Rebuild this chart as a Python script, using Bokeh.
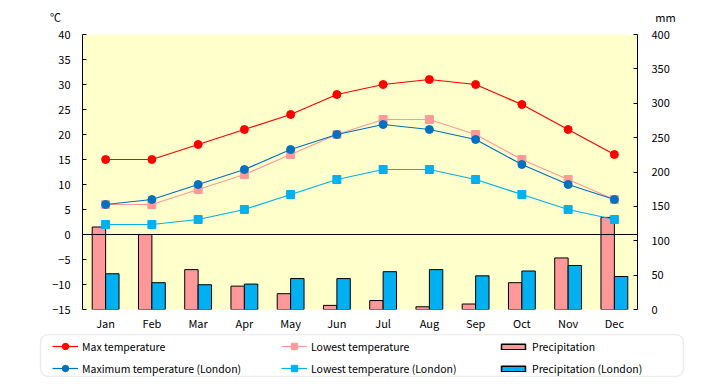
from bokeh.plotting import figure
from bokeh.layouts import column
from bokeh.models import (Range1d, LinearAxis, Span, Legend, LegendItem,
                          BoxAnnotation, FixedTicker, ColumnDataSource)
from bokeh.core.properties import value
from bokeh.transform import dodge
from bokeh.embed import file_html
from bokeh.resources import INLINE

months = ["Jan", "Feb", "Mar", "Apr", "May", "Jun", "Jul", "Aug", "Sep", "Oct", "Nov", "Dec"]
max_temp = [15, 15, 18, 21, 24, 28, 30, 31, 30, 26, 21, 16]
low_temp = [6, 6, 9, 12, 16, 20, 23, 23, 20, 15, 11, 7]
precip = [120, 109, 58, 34, 23, 6, 13, 4, 8, 39, 75, 134]
ldn_max = [6, 7, 10, 13, 17, 20, 22, 21, 19, 14, 10, 7]
ldn_low = [2, 2, 3, 5, 8, 11, 13, 13, 11, 8, 5, 3]
ldn_precip = [52, 39, 36, 37, 45, 45, 55, 58, 49, 56, 64, 48]
temp_ticks = list(range(-15, 45, 5))
mm_ticks = list(range(0, 450, 50))

FONT = "Noto Sans CJK JP"
RED = "#FF0000"
PINK = "#FF9999"
DBLUE = "#0070C0"
LBLUE = "#00B0F0"
W = 712
NAN = float("nan")

idx = list(range(len(months)))
src = ColumnDataSource(dict(x=idx, max_temp=max_temp, low_temp=low_temp, precip=precip,
                            ldn_max=ldn_max, ldn_low=ldn_low, ldn_precip=ldn_precip))

# ---- header with unit labels ----
H0 = 24
p0 = figure(width=W, height=H0, x_range=Range1d(0, W), y_range=Range1d(0, H0),
            output_backend="svg", toolbar_location=None, x_axis_type=None, y_axis_type=None,
            min_border=0, outline_line_color=None)
p0.frame_align = False
p0.grid.visible = False
p0.text(x=[55, 665], y=[H0 - 16, H0 - 16], text=["℃", "mm"], text_font=value(FONT),
        text_font_size="11px", text_align="center", text_baseline="middle", text_color="black")

# ---- main chart ----
p = figure(width=W, height=309, x_range=Range1d(-0.5, 11.5), y_range=Range1d(-15, 40),
           output_backend="svg", toolbar_location=None,
           min_border_left=82, min_border_right=75, min_border_top=10, min_border_bottom=24)
p.frame_align = False
p.extra_y_ranges = {"mm": Range1d(0, 400)}
p.background_fill_color = "#FFFFCC"
p.border_fill_color = "white"
p.outline_line_color = None
p.xgrid.visible = False
p.ygrid.visible = False

p.yaxis.ticker = FixedTicker(ticks=temp_ticks)
p.xaxis.ticker = FixedTicker(ticks=idx)
p.xaxis.major_label_overrides = {i: m for i, m in enumerate(months)}
right = LinearAxis(y_range_name="mm", ticker=FixedTicker(ticks=mm_ticks))
p.add_layout(right, "right")

for ax in [p.yaxis[0], right]:
    ax.major_tick_in = 4
    ax.major_tick_out = 0
    ax.minor_tick_in = 0
    ax.minor_tick_out = 0
    ax.axis_line_color = "black"
    ax.major_tick_line_color = "black"
    ax.major_label_text_font = FONT
    ax.major_label_text_font_size = "11px"
    ax.major_label_text_color = "black"
p.yaxis[0].major_label_standoff = 12
right.major_label_standoff = 14

xa = p.xaxis[0]
xa.axis_line_color = None
xa.major_tick_in = 0
xa.major_tick_out = 0
xa.minor_tick_in = 0
xa.minor_tick_out = 0
xa.major_tick_line_color = None
xa.minor_tick_line_color = None
xa.major_label_text_font = FONT
xa.major_label_text_font_size = "11px"
xa.major_label_text_color = "black"
xa.major_label_standoff = 5

bw = 0.29
p.vbar(x=dodge("x", -0.145), top="precip", bottom=0, width=bw, source=src,
       y_range_name="mm", fill_color=PINK, line_color="black", line_width=1)
p.vbar(x=dodge("x", 0.145), top="ldn_precip", bottom=0, width=bw, source=src,
       y_range_name="mm", fill_color=LBLUE, line_color="black", line_width=1)

p.add_layout(Span(location=0, dimension="width", line_color="black", line_width=1))

LW = 1.2
series = [("low_temp", PINK, "square"), ("ldn_low", LBLUE, "square"),
          ("ldn_max", DBLUE, "circle"), ("max_temp", RED, "circle")]
for col, c, m in series:
    p.line("x", col, source=src, line_color=c, line_width=LW)
    p.scatter("x", col, source=src, marker=m, size=8, fill_color=c, line_color=c)

# ---- legend panel ----
H2 = 44
p2 = figure(width=W, height=H2, x_range=Range1d(0, W), y_range=Range1d(0, H2),
            output_backend="svg", toolbar_location=None, x_axis_type=None, y_axis_type=None,
            min_border=0, outline_line_color=None)
p2.frame_align = False
p2.grid.visible = False
p2.add_layout(BoxAnnotation(left=40, right=683, top=H2 - 1, bottom=H2 - 43,
                            fill_color="white", fill_alpha=0.0, line_color="#BFBFBF",
                            line_width=1.5, border_radius=8))

def proxy_line(c, m):
    r1 = p2.line(x=[NAN], y=[NAN], line_color=c, line_width=LW)
    r2 = p2.scatter(x=[NAN], y=[NAN], marker=m, size=8, fill_color=c, line_color=c)
    return [r1, r2]

def proxy_bar(c):
    return [p2.vbar(x=[NAN], top=[NAN], width=1, fill_color=c, line_color="black", line_width=1.5)]

def make_legend(items, loc, gw, gh):
    lg = Legend(items=items, location=loc, orientation="vertical",
                glyph_width=gw, glyph_height=gh, label_height=16, label_standoff=4,
                spacing=6, padding=0, margin=0, border_line_color=None,
                background_fill_alpha=0.0, label_text_font=FONT,
                label_text_font_size="10.5px", label_text_color="black")
    p2.add_layout(lg, "center")

make_legend([LegendItem(label="Max temperature", renderers=proxy_line(RED, "circle")),
             LegendItem(label="Maximum temperature (London)", renderers=proxy_line(DBLUE, "circle"))],
            (52, 1), 26, 16)
make_legend([LegendItem(label="Lowest temperature", renderers=proxy_line(PINK, "square")),
             LegendItem(label="Lowest temperature (London)", renderers=proxy_line(LBLUE, "square"))],
            (281, 1), 26, 16)
make_legend([LegendItem(label="Precipitation", renderers=proxy_bar(PINK)),
             LegendItem(label="Precipitation (London)", renderers=proxy_bar(LBLUE))],
            (498, 1), 30, 7)

layout = column(p0, p, p2, spacing=0)
open("out.html", "w").write(file_html(layout, INLINE))
